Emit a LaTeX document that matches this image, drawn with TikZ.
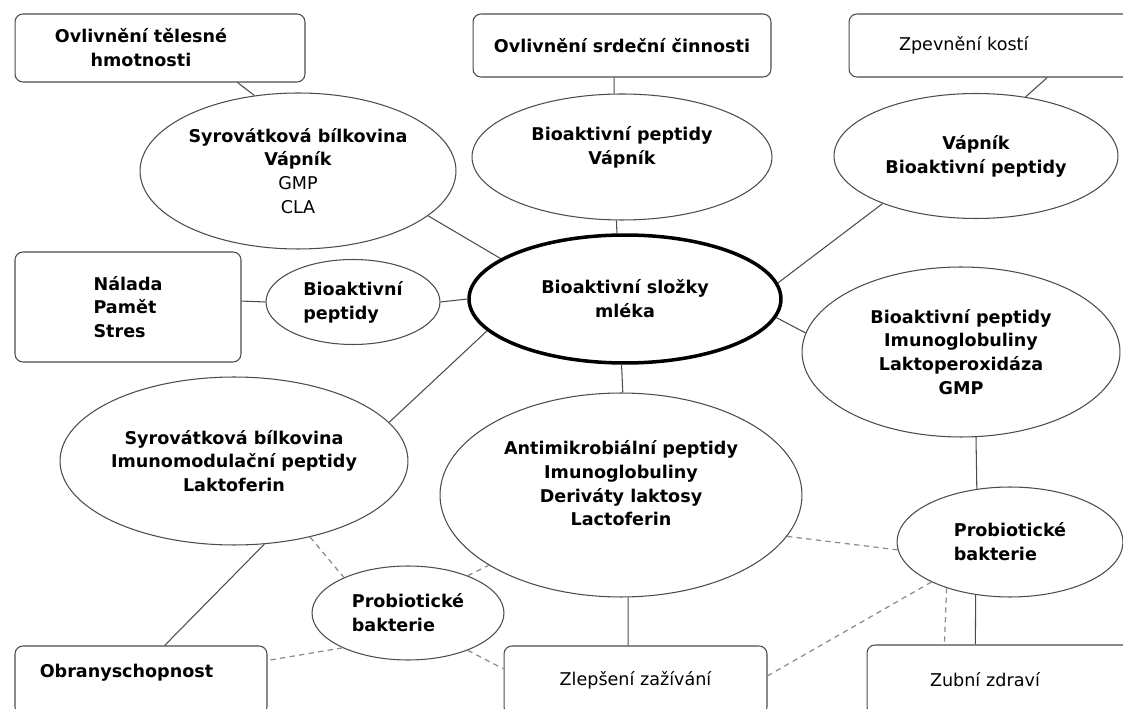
\documentclass[tikz,border=0pt]{standalone}
\usepackage{fontspec}
\setmainfont{DejaVu Sans}
\usetikzlibrary{shapes.geometric}

\tikzset{
  txt/.style={font=\fontsize{10}{13.6}\selectfont\bfseries},
  plaintxt/.style={font=\fontsize{10}{13.6}\selectfont\mdseries},
  box/.style={txt, draw=black!70, rounded corners=4.5pt, line width=0.6pt, inner sep=0pt, align=center},
  oval/.style={txt, draw=black!70, ellipse, line width=0.6pt, inner xsep=-0.5cm, inner ysep=-0.2cm, align=center},
  link/.style={draw=black!70, line width=0.6pt},
  dlink/.style={draw=black!45, line width=0.7pt, dash pattern=on 3pt off 2.5pt},
}

\begin{document}
\begin{tikzpicture}[x=0.02cm, y=-0.02cm]
  \useasboundingbox (0,0) rectangle (1123,709);
  \clip (0,0) rectangle (1123,709);
  \fill[white] (0,0) rectangle (1123,709);

  % Effects (boxes)
  \node[box, minimum width=5.8cm, minimum height=1.36cm] (hmotnost) at (160,48) {Ovlivnění tělesné\hspace*{0.76cm}\\hmotnosti\hspace*{0.76cm}};
  \node[box, minimum width=5.96cm, minimum height=1.26cm] (srdce) at (622,45.5) {Ovlivnění srdeční činnosti};
  \node[box, plaintxt, minimum height=1.26cm, text width=5cm, inner xsep=1cm, align=left] (kosti) at (1024,45.5) {Zpevnění kostí};
  \node[box, minimum width=4.52cm, minimum height=2.2cm, align=left] (nalada) at (128,307) {Nálada\\Pamět\\Stres};
  \node[box, minimum width=5.04cm, minimum height=1.38cm] (obrana) at (141,680.5) {\raisebox{0.16cm}[\height][\depth]{Obranyschopnost}\hspace*{0.58cm}};
  \node[box, plaintxt, minimum width=5.26cm, minimum height=1.38cm] (zazivani) at (635.5,680.5) {Zlepšení zažívání};
  \node[box, plaintxt, minimum height=1.4cm, text width=3.14cm, inner xsep=1.26cm, align=left] (zuby) at (1008.5,680) {Zubní zdraví};

  % Components (ellipses)
  \node[oval, draw=black, line width=2pt, minimum width=6.24cm, minimum height=2.56cm] (mleko) at (625,299) {Bioaktivní složky\\mléka};
  \node[oval, minimum width=6.32cm, minimum height=3.12cm] (syr1) at (298,171) {Syrovátková bílkovina\\Vápník\\{\mdseries GMP}\\{\mdseries CLA}};
  \node[oval, minimum width=6cm, minimum height=2.52cm] (pep1) at (622,157) {Bioaktivní peptidy\\Vápník\\\mbox{}};
  \node[oval, minimum width=5.68cm, minimum height=2.5cm] (pep2) at (976,156) {Vápník\\Bioaktivní peptidy};
  \node[oval, minimum width=3.48cm, minimum height=1.7cm, align=left] (pep3) at (353,302) {Bioaktivní\\peptidy};
  \node[oval, minimum width=6.36cm, minimum height=3.4cm] (pep4) at (961,352) {Bioaktivní peptidy\\Imunoglobuliny\\Laktoperoxidáza\\GMP};
  \node[oval, minimum width=6.96cm, minimum height=3.36cm] (syr2) at (234,461) {Syrovátková bílkovina\\Imunomodulační peptidy\\Laktoferin};
  \node[oval, minimum width=7.24cm, minimum height=4.08cm] (mikro) at (621,495) {Antimikrobiální peptidy\\Imunoglobuliny\\Deriváty laktosy\\Lactoferin\\\mbox{}};
  \node[oval, minimum width=4.52cm, minimum height=2.2cm, align=left] (bakt1) at (1010,542) {Probiotické\\bakterie};
  \node[oval, minimum width=3.84cm, minimum height=1.88cm, align=left] (bakt2) at (408,613) {Probiotické\\bakterie};

  % Solid links
  \draw[link] (hmotnost.-24) -- (syr1.120);
  \draw[link] (srdce.-104) -- (pep1.97);
  \draw[link] (kosti.-54) -- (pep2.50);
  \draw[link] (syr1.-19) -- (mleko.162);
  \draw[link] (pep1.-95) -- (mleko.97);
  \draw[link] (pep2.207) -- (mleko.6);
  \draw[link] (nalada.3) -- (pep3.west);
  \draw[link] (pep3.east) -- (mleko.west);
  \draw[link] (mleko.-7) -- (pep4.173);
  \draw[link] (mleko.193) -- (syr2.14);
  \draw[link] (mleko.-93) -- (mikro.89);
  \draw[link] (pep4.-80) -- (bakt1.122);
  \draw[link] (syr2.-70) -- (obrana.56);
  \draw[link] (mikro.-86) -- (zazivani.102);
  \draw[link] (bakt1.237) -- (zuby.133);

  % Dashed links (probiotics)
  \draw[dlink] (syr2.-45) -- (bakt2.151);
  \draw[dlink] (bakt2.208) -- (obrana.9);
  \draw[dlink] (bakt2.-32) -- (zazivani.175);
  \draw[dlink] (bakt2.32) -- (mikro.208);
  \draw[dlink] (mikro.-14) -- (bakt1.184);
  \draw[dlink] (bakt1.207) -- (zazivani.2);
  \draw[dlink] (bakt1.216) -- (zuby.151);
\end{tikzpicture}
\end{document}
